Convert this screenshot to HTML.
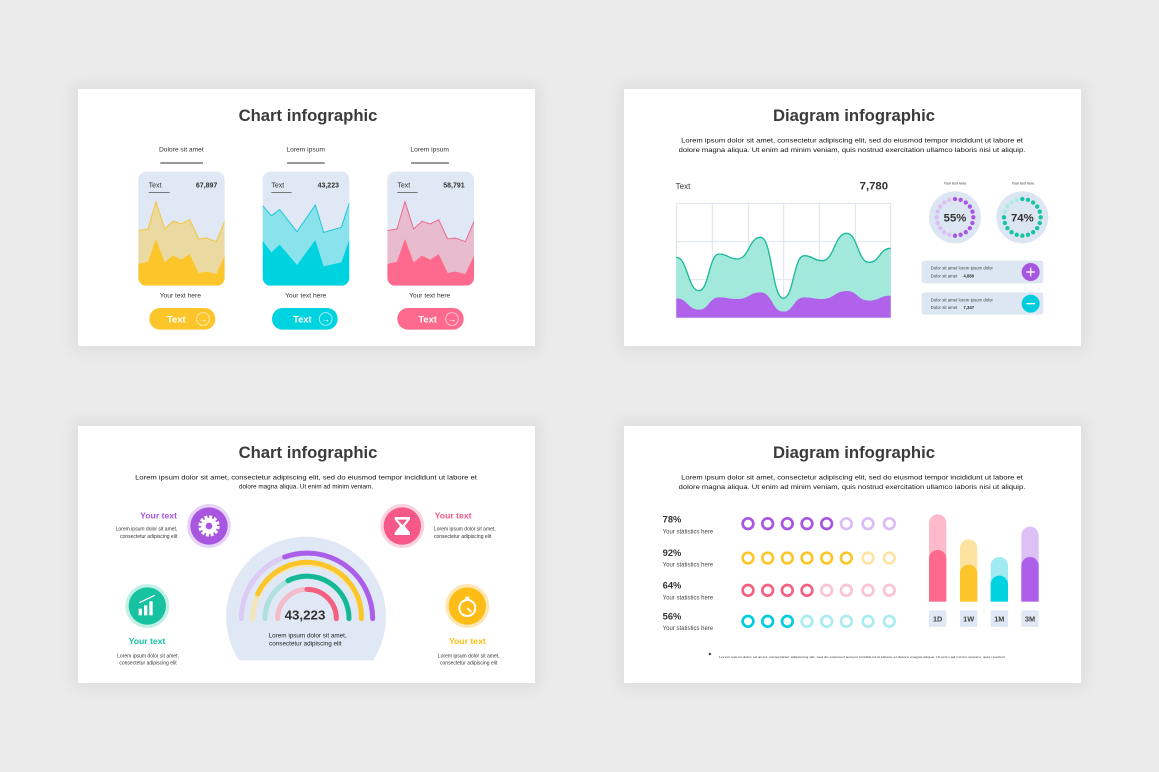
<!DOCTYPE html>
<html><head><meta charset="utf-8"><style>
html,body{margin:0;padding:0;background:#ebebeb;width:1159px;height:772px;overflow:hidden;font-family:"Liberation Sans",Arial,sans-serif}
.s{position:absolute;width:457px;height:257px;background:#fff;box-shadow:0 0 14px 6px rgba(0,0,0,0.05)}
.s svg{width:457px;height:257px;display:block}
text{font-family:"Liberation Sans",Arial,sans-serif}
</style></head><body>

<!-- Slide 1 -->
<div class="s" style="left:78px;top:89px">
<svg viewBox="0 0 1371 771">
<text x="690" y="96" font-size="50" font-weight="bold" fill="#3b3b3b" text-anchor="middle">Chart infographic</text>
<g font-size="20" fill="#333" text-anchor="middle">
<text x="310" y="187">Dolore sit amet</text>
<text x="683" y="187">Lorem ipsum</text>
<text x="1055" y="187">Lorem ipsum</text>
</g>
<g stroke="#333" stroke-width="3">
<line x1="247" y1="222" x2="375" y2="222"/><line x1="627" y1="222" x2="740" y2="222"/><line x1="999" y1="222" x2="1113" y2="222"/>
</g>
<defs>
<clipPath id="c1"><rect x="181" y="248" width="259" height="342" rx="24"/></clipPath>
<clipPath id="c2"><rect x="554" y="248" width="260" height="342" rx="24"/></clipPath>
<clipPath id="c3"><rect x="928" y="248" width="260" height="342" rx="24"/></clipPath>
</defs>
<!-- card 1 -->
<rect x="181" y="248" width="259" height="342" rx="24" fill="#dfe8f4"/>
<g clip-path="url(#c1)">
<polygon fill="#ead9a1" points="181,425 210,420 234,338 260,420 285,397 310,405 335,392 362,450 385,447 415,458 440,397 440,590 181,590"/>
<polyline fill="none" stroke="#f3c53a" stroke-width="3" points="181,425 210,420 234,338 260,420 285,397 310,405 335,392 362,450 385,447 415,458 440,397"/>
<polygon fill="#fcc62a" points="181,525 210,518 234,450 260,520 285,500 310,512 335,495 362,552 385,548 415,555 440,500 440,590 181,590"/>
</g>
<!-- card 2 -->
<rect x="554" y="248" width="260" height="342" rx="24" fill="#dfe8f4"/>
<g clip-path="url(#c2)">
<polygon fill="#8ae3ec" points="554,350 580,380 605,362 657,428 712,348 737,430 790,415 814,342 814,590 554,590"/>
<polyline fill="none" stroke="#1ec7d8" stroke-width="3" points="554,350 580,380 605,362 657,428 712,348 737,430 790,415 814,342"/>
<polygon fill="#00d3e0" points="554,455 580,490 605,467 657,528 712,453 737,532 790,520 814,452 814,590 554,590"/>
</g>
<!-- card 3 -->
<rect x="928" y="248" width="260" height="342" rx="24" fill="#dfe8f4"/>
<g clip-path="url(#c3)">
<polygon fill="#e8bccd" points="928,425 957,420 981,338 1007,420 1032,397 1057,405 1082,392 1109,450 1132,447 1162,458 1188,397 1188,590 928,590"/>
<polyline fill="none" stroke="#e96b93" stroke-width="3" points="928,425 957,420 981,338 1007,420 1032,397 1057,405 1082,392 1109,450 1132,447 1162,458 1188,397"/>
<polygon fill="#fe6a8e" points="928,525 957,518 981,450 1007,520 1032,500 1057,512 1082,495 1109,552 1132,548 1162,555 1188,500 1188,590 928,590"/>
</g>
<g font-size="21" fill="#333">
<text x="212" y="295">Text</text><text x="580" y="295">Text</text><text x="958" y="295">Text</text>
</g>
<g font-size="21" font-weight="bold" fill="#333" text-anchor="end">
<text x="418" y="295">67,897</text><text x="783" y="295">43,223</text><text x="1160" y="295">58,791</text>
</g>
<g stroke="#333" stroke-width="2">
<line x1="212" y1="310" x2="275" y2="310"/><line x1="580" y1="310" x2="641" y2="310"/><line x1="958" y1="310" x2="1019" y2="310"/>
</g>
<g font-size="20" fill="#333" text-anchor="middle">
<text x="307" y="625">Your text here</text><text x="683" y="625">Your text here</text><text x="1055" y="625">Your text here</text>
</g>
<rect x="214" y="657" width="198" height="65" rx="32" fill="#fcc62a"/>
<rect x="582" y="657" width="197" height="65" rx="32" fill="#00d3e0"/>
<rect x="958" y="657" width="199" height="65" rx="32" fill="#fe6a8e"/>
<g font-size="28" font-weight="bold" fill="#fff" text-anchor="middle">
<text x="295" y="700">Text</text><text x="673" y="700">Text</text><text x="1049" y="700">Text</text>
</g>
<g fill="none" stroke="#fff" stroke-opacity="0.6" stroke-width="3">
<circle cx="375" cy="690" r="19"/><circle cx="743" cy="690" r="19"/><circle cx="1122" cy="690" r="19"/>
</g>
<g font-size="26" font-weight="bold" fill="#fff" text-anchor="middle">
<text x="375" y="699">→</text><text x="743" y="699">→</text><text x="1122" y="699">→</text>
</g>
</svg></div>

<!-- Slide 2 -->
<div class="s" style="left:624px;top:89px">
<svg viewBox="0 0 1371 771">
<text x="690" y="96" font-size="50" font-weight="bold" fill="#3b3b3b" text-anchor="middle">Diagram infographic</text>
<g font-size="19" fill="#111" text-anchor="middle">
<text x="684" y="161" textLength="1025" lengthAdjust="spacingAndGlyphs">Lorem ipsum dolor sit amet, consectetur adipiscing elit, sed do eiusmod tempor incididunt ut labore et</text>
<text x="684" y="189" textLength="1040" lengthAdjust="spacingAndGlyphs">dolore magna aliqua. Ut enim ad minim veniam, quis nostrud exercitation ullamco laboris nisi ut aliquip.</text>
</g>
<text x="155" y="300" font-size="24" fill="#333">Text</text>
<text x="792" y="302" font-size="34" font-weight="bold" fill="#333" text-anchor="end">7,780</text>
<rect x="157" y="343" width="643" height="343" fill="#fff" stroke="#dde4ee" stroke-width="3"/>
<g stroke="#dde4ee" stroke-width="3">
<line x1="265" y1="343" x2="265" y2="686"/><line x1="373" y1="343" x2="373" y2="686"/><line x1="479" y1="343" x2="479" y2="686"/><line x1="586" y1="343" x2="586" y2="686"/><line x1="694" y1="343" x2="694" y2="686"/>
<line x1="157" y1="458" x2="800" y2="458"/><line x1="157" y1="572" x2="800" y2="572"/>
</g>
<path fill="#9de8da" fill-opacity="0.95" d="M157,505 C191,505 191,605 225,605 C255,605 255,495 285,495 C312,495 312,510 340,510 C375,510 375,445 410,445 C444,445 444,628 478,628 C509,628 509,500 540,500 C567,500 567,515 595,515 C631,515 631,433 668,433 C701,433 701,520 735,520 C767,520 767,478 800,478 L800,686 L157,686Z"/>
<path fill="none" stroke="#19b99a" stroke-width="4" d="M157,505 C191,505 191,605 225,605 C255,605 255,495 285,495 C312,495 312,510 340,510 C375,510 375,445 410,445 C444,445 444,628 478,628 C509,628 509,500 540,500 C567,500 567,515 595,515 C631,515 631,433 668,433 C701,433 701,520 735,520 C767,520 767,478 800,478"/>
<path fill="#b062ea" d="M157,628 C191,628 191,662 225,662 C255,662 255,625 285,625 C312,625 312,630 340,630 C375,630 375,610 410,610 C444,610 444,668 478,668 C509,668 509,625 540,625 C567,625 567,630 595,630 C631,630 631,606 668,606 C701,606 701,635 735,635 C767,635 767,620 800,620 L800,686 L157,686Z"/>
<g font-size="11" fill="#333" text-anchor="middle"><text x="993" y="286">Your text here</text><text x="1197" y="286">Your text here</text></g>
<circle cx="993" cy="385" r="78" fill="#dce6f3"/>
<circle cx="1195" cy="385" r="78" fill="#dce6f3"/>
<circle cx="993" cy="385" r="55" fill="none" stroke="#dcbcf5" stroke-width="13" stroke-linecap="round" pathLength="20" stroke-dasharray="0 1" transform="rotate(-90 993 385)"/>
<circle cx="993" cy="385" r="55" fill="none" stroke="#a855e0" stroke-width="13" stroke-linecap="round" pathLength="20" stroke-dasharray="0 1 0 1 0 1 0 1 0 1 0 1 0 1 0 1 0 1 0 1 0 30" transform="rotate(-90 993 385)"/>
<circle cx="1195" cy="385" r="55" fill="none" stroke="#a6ebdc" stroke-width="13" stroke-linecap="round" pathLength="20" stroke-dasharray="0 1" transform="rotate(-90 1195 385)"/>
<circle cx="1195" cy="385" r="55" fill="none" stroke="#14c4a2" stroke-width="13" stroke-linecap="round" pathLength="20" stroke-dasharray="0 1 0 1 0 1 0 1 0 1 0 1 0 1 0 1 0 1 0 1 0 1 0 1 0 1 0 1 0 1 0 30" transform="rotate(-90 1195 385)"/>
<g font-size="34" font-weight="bold" fill="#333" text-anchor="middle"><text x="993" y="398">55%</text><text x="1195" y="398">74%</text></g>
<rect x="893" y="515" width="365" height="68" rx="8" fill="#dde7f4"/>
<rect x="893" y="610" width="365" height="67" rx="8" fill="#dde7f4"/>
<g font-size="13" fill="#444">
<text x="920" y="542">Dolor sit amet lorem ipsum dolor</text><text x="920" y="566">Dolor sit amet</text>
<text x="920" y="637">Dolor sit amet lorem ipsum dolor</text><text x="920" y="660">Dolor sit amet</text>
</g>
<g font-size="13" font-weight="bold" fill="#333"><text x="1018" y="566">4,880</text><text x="1018" y="660">7,347</text></g>
<circle cx="1220" cy="549" r="27" fill="#a855e0"/><circle cx="1220" cy="644" r="27" fill="#00cce0"/>
<g stroke="#fff" stroke-width="4"><line x1="1207" y1="549" x2="1233" y2="549"/><line x1="1220" y1="536" x2="1220" y2="562"/><line x1="1207" y1="644" x2="1233" y2="644"/></g>
</svg></div>

<!-- Slide 3 -->
<div class="s" style="left:78px;top:426px">
<svg viewBox="0 0 1371 771">
<text x="690" y="96" font-size="50" font-weight="bold" fill="#3b3b3b" text-anchor="middle">Chart infographic</text>
<g font-size="19" fill="#111" text-anchor="middle">
<text x="684" y="161" textLength="1025" lengthAdjust="spacingAndGlyphs">Lorem ipsum dolor sit amet, consectetur adipiscing elit, sed do eiusmod tempor incididunt ut labore et</text>
<text x="684" y="187">dolore magna aliqua. Ut enim ad minim veniam.</text>
</g>
<defs><clipPath id="dome"><rect x="400" y="300" width="570" height="403"/></clipPath></defs>
<circle cx="684" cy="572" r="240" fill="#dfe8f4" clip-path="url(#dome)"/>
<g fill="none" stroke-width="15" stroke-linecap="round">
<path d="M490,578 A197,197 0 0 1 884,578" stroke="#dccbf4"/>
<path d="M620,393 A197,197 0 0 1 884,578" stroke="#ab5ee8"/>
<path d="M524,578 A163,163 0 0 1 850,578" stroke="#f3e6b8"/>
<path d="M539,504 A163,163 0 0 1 850,578" stroke="#fcc62a"/>
<path d="M561,578 A126,126 0 0 1 813,578" stroke="#aee1dd"/>
<path d="M630,464 A126,126 0 0 1 813,578" stroke="#14b897"/>
<path d="M599,578 A88,88 0 0 1 775,578" stroke="#f3bcca"/>
<path d="M687,490 A88,88 0 0 1 775,578" stroke="#f4607f"/>
</g>
<text x="681" y="580" font-size="40" font-weight="bold" fill="#333" text-anchor="middle">43,223</text>
<g font-size="19" fill="#222" text-anchor="middle"><text x="689" y="634">Lorem ipsum dolor sit amet,</text><text x="682" y="659">consectetur adipiscing elit</text></g>
<!-- icons -->
<circle cx="393" cy="300" r="66" fill="#e7d3f8"/><circle cx="393" cy="300" r="56" fill="#a855e0"/>
<circle cx="393" cy="300" r="27" fill="none" stroke="#fff" stroke-width="10" stroke-dasharray="9 5.1"/><circle cx="393" cy="300" r="24" fill="#fff"/><circle cx="393" cy="300" r="10" fill="#a855e0"/>
<circle cx="973" cy="300" r="66" fill="#fbd2dd"/><circle cx="973" cy="300" r="56" fill="#f65888"/>
<path d="M950,273 H996 V280 L980,300 L996,320 V327 H950 V320 L966,300 L950,280Z" fill="#fff"/>
<path d="M958,281 H988 L973,297Z" fill="#f65888"/>
<circle cx="208" cy="540" r="66" fill="#c3f0e6"/><circle cx="208" cy="540" r="56" fill="#17c2a0"/>
<g fill="#fff"><rect x="182" y="548" width="10" height="20"/><rect x="198" y="538" width="10" height="30"/><rect x="214" y="526" width="10" height="42"/></g>
<path d="M184,530 L230,508" stroke="#fff" stroke-width="4"/>
<circle cx="1168" cy="540" r="66" fill="#fde7b4"/><circle cx="1168" cy="540" r="56" fill="#fdbd16"/>
<circle cx="1168" cy="546" r="24" fill="none" stroke="#fff" stroke-width="6"/><rect x="1162" y="512" width="12" height="8" fill="#fff"/><path d="M1168,546 L1180,558" stroke="#fff" stroke-width="5"/>
<g font-size="26" font-weight="bold">
<text x="297" y="278" fill="#a855e0" text-anchor="end">Your text</text>
<text x="1070" y="278" fill="#f65888">Your text</text>
<text x="207" y="654" fill="#17c2a0" text-anchor="middle">Your text</text>
<text x="1168" y="654" fill="#fdbd16" text-anchor="middle">Your text</text>
</g>
<g font-size="15" fill="#333">
<g text-anchor="end"><text x="298" y="314">Lorem ipsum dolor sit amet,</text><text x="298" y="336">consectetur adipiscing elit</text></g>
<text x="1068" y="314">Lorem ipsum dolor sit amet,</text><text x="1068" y="336">consectetur adipiscing elit</text>
<g text-anchor="middle"><text x="210" y="694">Lorem ipsum dolor sit amet,</text><text x="210" y="716">consectetur adipiscing elit</text>
<text x="1172" y="694">Lorem ipsum dolor sit amet,</text><text x="1172" y="716">consectetur adipiscing elit</text></g>
</g>
</svg></div>

<!-- Slide 4 -->
<div class="s" style="left:624px;top:426px">
<svg viewBox="0 0 1371 771">
<text x="690" y="96" font-size="50" font-weight="bold" fill="#3b3b3b" text-anchor="middle">Diagram infographic</text>
<g font-size="19" fill="#111" text-anchor="middle">
<text x="684" y="161" textLength="1025" lengthAdjust="spacingAndGlyphs">Lorem ipsum dolor sit amet, consectetur adipiscing elit, sed do eiusmod tempor incididunt ut labore et</text>
<text x="684" y="189" textLength="1040" lengthAdjust="spacingAndGlyphs">dolore magna aliqua. Ut enim ad minim veniam, quis nostrud exercitation ullamco laboris nisi ut aliquip.</text>
</g>
<g font-size="28" font-weight="bold" fill="#333"><text x="116" y="290">78%</text><text x="116" y="390">92%</text><text x="116" y="488">64%</text><text x="116" y="581">56%</text></g>
<g font-size="18" fill="#444"><text x="116" y="322">Your statistics here</text><text x="116" y="422">Your statistics here</text><text x="116" y="520">Your statistics here</text><text x="116" y="612">Your statistics here</text></g>
<g fill="none" stroke-width="8">
<g stroke="#a855e0"><circle cx="372" cy="293" r="16"/><circle cx="431" cy="293" r="16"/><circle cx="490" cy="293" r="16"/><circle cx="549" cy="293" r="16"/><circle cx="608" cy="293" r="16"/></g>
<g stroke="#dcbcf5"><circle cx="667" cy="293" r="16"/><circle cx="732" cy="293" r="16"/><circle cx="796" cy="293" r="16"/></g>
<g stroke="#fcc62a"><circle cx="372" cy="396" r="16"/><circle cx="431" cy="396" r="16"/><circle cx="490" cy="396" r="16"/><circle cx="549" cy="396" r="16"/><circle cx="608" cy="396" r="16"/><circle cx="667" cy="396" r="16"/></g>
<g stroke="#fde4a5"><circle cx="732" cy="396" r="16"/><circle cx="796" cy="396" r="16"/></g>
<g stroke="#f4607f"><circle cx="372" cy="493" r="16"/><circle cx="431" cy="493" r="16"/><circle cx="490" cy="493" r="16"/><circle cx="549" cy="493" r="16"/></g>
<g stroke="#fbc4d2"><circle cx="608" cy="493" r="16"/><circle cx="667" cy="493" r="16"/><circle cx="732" cy="493" r="16"/><circle cx="796" cy="493" r="16"/></g>
<g stroke="#00cce0"><circle cx="372" cy="586" r="16"/><circle cx="431" cy="586" r="16"/><circle cx="490" cy="586" r="16"/></g>
<g stroke="#a8ecf2"><circle cx="549" cy="586" r="16"/><circle cx="608" cy="586" r="16"/><circle cx="667" cy="586" r="16"/><circle cx="732" cy="586" r="16"/><circle cx="796" cy="586" r="16"/></g>
</g>
<!-- bars -->
<path d="M915,527 V291 A26,26 0 0 1 967,291 V527Z" fill="#fdbacb"/>
<path d="M915,527 V398 A26,26 0 0 1 967,398 V527Z" fill="#fe6a8e"/>
<path d="M1008,527 V366 A26,26 0 0 1 1060,366 V527Z" fill="#fde3a0"/>
<path d="M1008,527 V442 A26,26 0 0 1 1060,442 V527Z" fill="#fcc62a"/>
<path d="M1100,527 V419 A26,26 0 0 1 1152,419 V527Z" fill="#a0eaf2"/>
<path d="M1100,527 V475 A26,26 0 0 1 1152,475 V527Z" fill="#00d3e0"/>
<path d="M1192,527 V328 A26,26 0 0 1 1244,328 V527Z" fill="#dcc0f6"/>
<path d="M1192,527 V419 A26,26 0 0 1 1244,419 V527Z" fill="#ae5fea"/>
<g fill="#dfe8f4"><rect x="915" y="553" width="52" height="50" rx="5"/><rect x="1008" y="553" width="52" height="50" rx="5"/><rect x="1100" y="553" width="52" height="50" rx="5"/><rect x="1192" y="553" width="52" height="50" rx="5"/></g>
<g font-size="22" font-weight="bold" fill="#444" text-anchor="middle"><text x="941" y="586">1D</text><text x="1034" y="586">1W</text><text x="1126" y="586">1M</text><text x="1218" y="586">3M</text></g>
<text x="251" y="690" font-size="16" fill="#111">✦</text>
<text x="285" y="696" font-size="9" fill="#333" textLength="860" lengthAdjust="spacingAndGlyphs">Lorem ipsum dolor sit amet, consectetur adipiscing elit, sed do eiusmod tempor incididunt ut labore et dolore magna aliqua. Ut enim ad minim veniam, quis nostrud.</text>
</svg></div>

</body></html>
